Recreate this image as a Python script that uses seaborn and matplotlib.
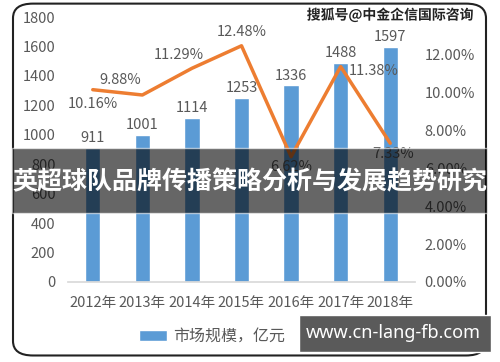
import matplotlib
matplotlib.use("Agg")
import matplotlib.pyplot as plt
import seaborn as sns
import pandas as pd
from matplotlib.patches import FancyBboxPatch, Rectangle, Patch
from matplotlib.lines import Line2D
import matplotlib.patheffects as pe

# data
years = ["2012年", "2013年", "2014年", "2015年", "2016年", "2017年", "2018年"]
market_size = [911, 1001, 1114, 1253, 1336, 1488, 1597]
growth = [10.16, 9.88, 11.29, 12.48, 6.62, 11.38, 7.33]
growth_labels = ["10.16%", "9.88%", "11.29%", "12.48%", "6.62%", "11.38%", "7.33%"]
label_offsets = [(0, -14), (-22, 15), (-13, 13), (0, 14), (0, -10), (33, -4), (3, -11)]

sns.set_theme(style="white")
plt.rcParams["font.family"] = ["Noto Sans CJK SC", "DejaVu Sans"]

df = pd.DataFrame({"year": years, "size": market_size, "growth": growth})

BLUE = "#5B9BD5"
ORANGE = "#ED7D31"
GRAY = "#595959"

fig = plt.figure(figsize=(5, 3.62), dpi=100)
fig.patch.set_facecolor("white")
ax = fig.add_axes([0.136, 0.221, 0.694, 0.732])

sns.barplot(data=df, x="year", y="size", color=BLUE, width=0.31, ax=ax, saturation=1)
ax.set_xlim(-0.5, 6.5)
ax.set_ylim(0, 1800)
ax.set_yticks(range(0, 1801, 200))
ax.set_xlabel("")
ax.set_ylabel("")
for s in ["top", "right", "left"]:
    ax.spines[s].set_visible(False)
ax.spines["bottom"].set_color("#D9D9D9")
ax.tick_params(axis="y", length=0, colors=GRAY, labelsize=10.5, pad=9)
ax.tick_params(axis="x", length=0, colors=GRAY, labelsize=10.5, pad=10)
ax.bar_label(ax.containers[0], labels=[str(v) for v in market_size], padding=2,
             color=GRAY, fontsize=10.5)

ax2 = ax.twinx()
sns.lineplot(data=df, x="year", y="growth", color=ORANGE, linewidth=2.5, ax=ax2, sort=False)
ax2.set_ylim(0, 14)
ax2.set_yticks([0, 2, 4, 6, 8, 10, 12])
ax2.set_yticklabels([f"{v:.2f}%" for v in [0, 2, 4, 6, 8, 10, 12]])
ax2.set_ylabel("")
for s in ["top", "right", "left", "bottom"]:
    ax2.spines[s].set_visible(False)
ax2.tick_params(axis="y", length=0, colors=GRAY, labelsize=10.5, pad=7)
for i, (g, lab) in enumerate(zip(growth, growth_labels)):
    ax2.annotate(lab, xy=(i, g), xytext=label_offsets[i], textcoords="offset pixels",
                 ha="center", va="center", color=GRAY, fontsize=10.5)

handles = [Patch(facecolor=BLUE), Line2D([0], [0], color=ORANGE, lw=2.5)]
fig.legend(handles, ["市场规模，亿元", "增长率"], loc="center", bbox_to_anchor=(0.538, 0.07),
           ncol=2, frameon=False, fontsize=11.5, labelcolor=GRAY, handlelength=1.7,
           handleheight=0.6, handletextpad=0.4, columnspacing=2)

# rounded frame
frame = FancyBboxPatch((0.026, 0.018), 0.946, 0.972, boxstyle="round,pad=0,rounding_size=0.04",
                       transform=fig.transFigure, facecolor="none", edgecolor="#222222",
                       linewidth=1.5, zorder=10)
fig.patches.append(frame)

# title banner
fig.patches.append(Rectangle((0.024, 0.412), 0.95, 0.179, transform=fig.transFigure,
                             facecolor="black", alpha=0.6, zorder=20))
fig.text(0.5, 0.497, "英超球队品牌传播策略分析与发展趋势研究", ha="center", va="center",
         color="white", fontsize=18, fontweight="bold", zorder=21)

# watermarks
fig.text(0.78, 0.958, "搜狐号@中金企信国际咨询", ha="center", va="center", color="#222222",
         fontsize=10, fontweight="bold", zorder=21,
         path_effects=[pe.withStroke(linewidth=2, foreground="white")])
fig.patches.append(Rectangle((0.598, 0.028), 0.384, 0.102, transform=fig.transFigure,
                             facecolor="#5a5a5a", zorder=20))
fig.text(0.787, 0.08, "www.cn-lang-fb.com", ha="center", va="center", color="white",
         fontsize=13, fontweight="bold", family=["Noto Sans", "DejaVu Sans"], zorder=21)

fig.savefig("out.png", dpi=100)
